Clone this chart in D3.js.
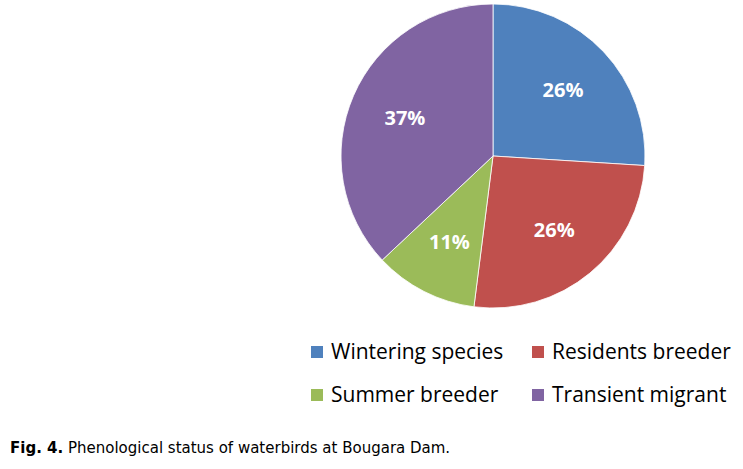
<!DOCTYPE html>
<html>
<head>
<meta charset="utf-8">
<script src="https://cdn.jsdelivr.net/npm/d3@7"></script>
<style>
  body { margin: 0; background: #fff; }
  svg { display: block; }
</style>
</head>
<body>
<div id="chart"></div>
<script>
// phenological status shares (%)
const categories = ["Wintering species", "Residents breeder", "Summer breeder", "Transient migrant"];
const shares = [26, 26, 11, 37];
const colors = ["#4F81BD", "#C0504D", "#9BBB59", "#8064A2"];
const caption = ["Fig. 4.", " Phenological status of waterbirds at Bougara Dam."];

const width = 743, height = 469;
const cx = 493, cy = 156, radius = 152;

let svg = d3.select("#chart")
    .append("svg")
    .attr("width", width)
    .attr("height", height);

let pie = d3.pie().sort(null).value(d => d);
let arc = d3.arc().innerRadius(0).outerRadius(radius);
let labelArc = d3.arc().innerRadius(96).outerRadius(96);

let g = svg.append("g")
    .attr("transform", "translate(" + cx + "," + cy + ")");

let slices = pie(shares);

g.selectAll("path")
    .data(slices)
    .enter()
    .append("path")
    .attr("d", arc)
    .attr("fill", (d, i) => colors[i])
    .attr("stroke", "#fff")
    .attr("stroke-width", 0.8);

g.selectAll("text.pct")
    .data(slices)
    .enter()
    .append("text")
    .attr("class", "pct")
    .attr("transform", d => "translate(" + labelArc.centroid(d) + ")")
    .attr("dy", "0.35em")
    .attr("text-anchor", "middle")
    .attr("fill", "#fff")
    .style("font-family", "'Open Sans', sans-serif")
    .style("font-weight", "bold")
    .style("font-size", "20px")
    .text(d => d.data + "%");

// legend, two columns x two rows
let legX = d3.scaleOrdinal().domain([0, 1]).range([311, 532]);
let legY = d3.scaleOrdinal().domain([0, 1]).range([359, 402]);

let legend = svg.selectAll("g.leg")
    .data(categories)
    .enter()
    .append("g")
    .attr("class", "leg")
    .attr("transform", (d, i) => "translate(" + legX(i % 2) + "," + legY(Math.floor(i / 2)) + ")");

legend.append("rect")
    .attr("x", 0)
    .attr("y", -13)
    .attr("width", 12)
    .attr("height", 12)
    .attr("fill", (d, i) => colors[i]);

legend.append("text")
    .attr("x", 20)
    .attr("y", 0)
    .attr("fill", "#000")
    .style("font-family", "'Open Sans', sans-serif")
    .style("font-size", "21px")
    .text(d => d);

let cap = svg.append("text")
    .attr("x", 10)
    .attr("y", 453)
    .attr("fill", "#000")
    .style("font-family", "'DejaVu Sans', Verdana, sans-serif")
    .style("font-size", "15px");

cap.append("tspan").style("font-weight", "bold").text(caption[0]);
cap.append("tspan").text(caption[1]);
</script>
</body>
</html>
